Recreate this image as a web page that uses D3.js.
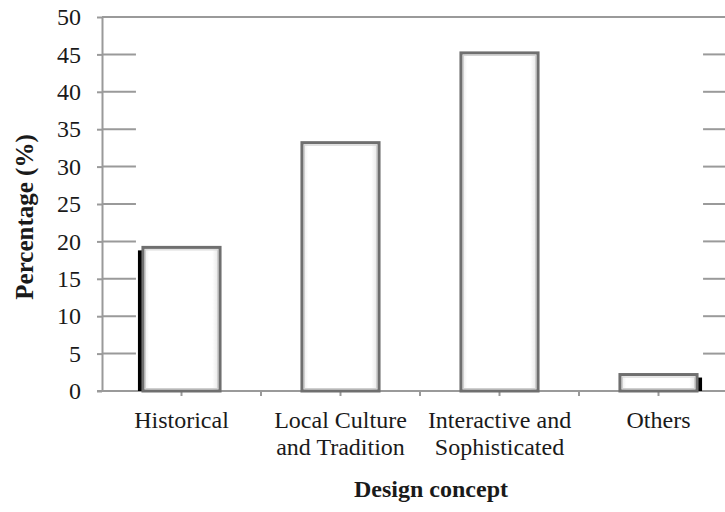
<!DOCTYPE html>
<html>
<head>
<meta charset="utf-8">
<script src="https://cdn.jsdelivr.net/npm/d3@7"></script>
<style>
  body { margin: 0; background: #fff; }
  svg { display: block; }
</style>
</head>
<body>
<div id="chart"></div>
<script>
// data
const categories = ["Historical", "Local Culture|and Tradition", "Interactive and|Sophisticated", "Others"];
const values = [19.2, 33.2, 45.2, 2.2];
const yTicks = [0, 5, 10, 15, 20, 25, 30, 35, 40, 45, 50];

const width = 725, height = 512;
const plotLeft = 102, plotTop = 17, plotBottom = 391;
const serif = "'Liberation Serif', 'Times New Roman', serif";

const svg = d3.select("#chart").append("svg")
    .attr("width", width)
    .attr("height", height);

const defs = svg.append("defs");
const grad = defs.append("linearGradient").attr("id", "barfill")
    .attr("x1", "0%").attr("x2", "100%").attr("y1", "0%").attr("y2", "0%");
grad.append("stop").attr("offset", "0%").attr("stop-color", "#e6e6e6");
grad.append("stop").attr("offset", "8%").attr("stop-color", "#ffffff");
grad.append("stop").attr("offset", "90%").attr("stop-color", "#ffffff");
grad.append("stop").attr("offset", "100%").attr("stop-color", "#e2e2e2");

// scales
var x = d3.scaleBand()
    .domain(categories)
    .range([plotLeft, 738])
    .padding(0);

var y = d3.scaleLinear()
    .domain([0, 50])
    .range([plotBottom, plotTop]);

const barW = x.bandwidth() * 0.485;
const gridColor = "#9a9a9a";

// gridlines: top one runs full width, the rest only show at the edges
yTicks.forEach((t) => {
    if (t == 0) return;
    if (t == 50) {
        svg.append("line")
            .attr("x1", plotLeft).attr("x2", width)
            .attr("y1", y(t)).attr("y2", y(t))
            .attr("stroke", gridColor).attr("stroke-width", 2);
        return;
    }
    svg.append("line")
        .attr("x1", plotLeft).attr("x2", x(categories[0]) + (x.bandwidth() - barW) / 2 - 7)
        .attr("y1", y(t)).attr("y2", y(t))
        .attr("stroke", gridColor).attr("stroke-width", 2);
    svg.append("line")
        .attr("x1", x(categories[3]) + (x.bandwidth() + barW) / 2 + 6).attr("x2", width)
        .attr("y1", y(t)).attr("y2", y(t))
        .attr("stroke", gridColor).attr("stroke-width", 2);
});

// y axis
var yAxis = svg.append("g")
    .attr("transform", "translate(" + plotLeft + ",0)")
    .call(d3.axisLeft(y).tickValues(yTicks).tickSize(5).tickSizeOuter(0).tickPadding(16));
yAxis.attr("font-family", serif);
yAxis.select(".domain").attr("stroke", gridColor).attr("stroke-width", 2);
yAxis.selectAll(".tick line").attr("stroke", gridColor).attr("stroke-width", 2);
yAxis.selectAll(".tick text")
    .attr("font-size", "24px")
    .attr("font-family", serif)
    .attr("fill", "#1a1a1a");

// x axis line and ticks (band edges and centres)
svg.append("line")
    .attr("x1", plotLeft - 5).attr("x2", width)
    .attr("y1", plotBottom).attr("y2", plotBottom)
    .attr("stroke", gridColor).attr("stroke-width", 2);

let tickXs = [];
categories.forEach((c) => {
    tickXs.push(x(c) + x.bandwidth() / 2);
    if (x(c) > plotLeft) tickXs.push(x(c));
});
svg.selectAll("line.xtick")
    .data(tickXs)
    .enter()
    .append("line")
        .attr("class", "xtick")
        .attr("x1", (d) => d).attr("x2", (d) => d)
        .attr("y1", plotBottom).attr("y2", plotBottom + 5)
        .attr("stroke", gridColor).attr("stroke-width", 2);

// black shadows on the outer bars
const shadowSide = ["left", null, null, "right"];
categories.forEach((c, i) => {
    if (!shadowSide[i]) return;
    let bx = x(c) + (x.bandwidth() - barW) / 2;
    let sx = shadowSide[i] == "left" ? bx - 5 : bx + barW;
    svg.append("rect")
        .attr("x", sx)
        .attr("y", y(values[i]) + 3)
        .attr("width", 5)
        .attr("height", plotBottom - y(values[i]) - 3)
        .attr("fill", "#000");
});

// bars
var bars = svg.selectAll("g.bar")
    .data(values)
    .enter()
    .append("g")
        .attr("class", "bar");

bars.append("rect")
    .attr("x", (d, i) => x(categories[i]) + (x.bandwidth() - barW) / 2)
    .attr("y", (d) => y(d))
    .attr("width", barW)
    .attr("height", (d) => plotBottom - y(d))
    .attr("fill", "url(#barfill)")
    .attr("stroke", "#6f6f6f")
    .attr("stroke-width", 3);

bars.append("rect")
    .attr("x", (d, i) => x(categories[i]) + (x.bandwidth() - barW) / 2 + 2.5)
    .attr("y", (d) => y(d) + 2.5)
    .attr("width", barW - 5)
    .attr("height", (d) => Math.max(0, plotBottom - y(d) - 5))
    .attr("fill", "none")
    .attr("stroke", "#cfcfcf")
    .attr("stroke-width", 1);

// category labels
categories.forEach((c) => {
    let lines = c.split("|");
    let t = svg.append("text")
        .attr("text-anchor", "middle")
        .attr("font-family", serif)
        .attr("font-size", "24px")
        .attr("fill", "#1a1a1a");
    lines.forEach((l, j) => {
        t.append("tspan")
            .attr("x", x(c) + x.bandwidth() / 2)
            .attr("y", 428 + j * 27)
            .text(l);
    });
});

// axis titles
svg.append("text")
    .attr("text-anchor", "middle")
    .attr("font-family", serif)
    .attr("font-size", "24px")
    .attr("font-weight", "bold")
    .attr("fill", "#1a1a1a")
    .attr("x", 431)
    .attr("y", 497)
    .text("Design concept");

svg.append("text")
    .attr("text-anchor", "middle")
    .attr("font-family", serif)
    .attr("font-size", "25px")
    .attr("font-weight", "bold")
    .attr("fill", "#1a1a1a")
    .attr("transform", "translate(33," + 217 + ") rotate(-90)")
    .text("Percentage (%)");
</script>
</body>
</html>
